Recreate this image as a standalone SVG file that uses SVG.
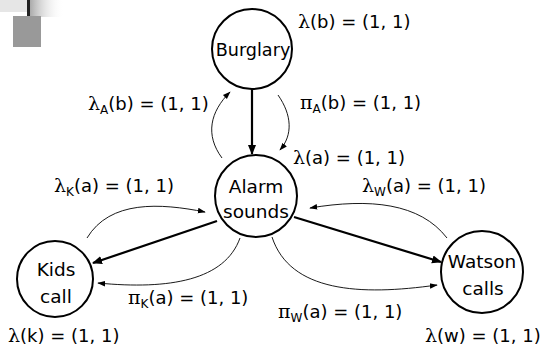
<svg xmlns="http://www.w3.org/2000/svg" width="545" height="352" viewBox="0 0 545 352">
<style>
.node{fill:#fff;stroke:#000;stroke-width:2}
.nt{font-family:"DejaVu Sans",Verdana,sans-serif;font-size:18.5px;fill:#000;text-anchor:middle}
.lb{font-family:"DejaVu Sans",Verdana,sans-serif;font-size:18px;fill:#000}
.g{font-family:"DejaVu Serif","Liberation Serif",serif;font-size:19px}
.sub{font-size:12px}
.thick{fill:none;stroke:#000;stroke-width:2.2}
.thin{fill:none;stroke:#000;stroke-width:0.9}
</style>
<defs>
<marker id="ah" viewBox="0 0 10 10" refX="9" refY="5" markerWidth="10" markerHeight="10" markerUnits="userSpaceOnUse" orient="auto">
<path d="M0,1 L10,5 L0,9 Z" fill="#000"/>
</marker>
<marker id="ahs" viewBox="0 0 10 10" refX="9" refY="5" markerWidth="8" markerHeight="8" markerUnits="userSpaceOnUse" orient="auto">
<path d="M0,1.5 L10,5 L0,8.5 Z" fill="#000"/>
</marker>
<linearGradient id="topline" x1="0" y1="0" x2="1" y2="0">
<stop offset="0" stop-color="#333"/>
<stop offset="0.4" stop-color="#444"/>
<stop offset="1" stop-color="#ddd"/>
</linearGradient>
<linearGradient id="shade" x1="0" y1="0" x2="1" y2="0">
<stop offset="0" stop-color="#aaa"/>
<stop offset="1" stop-color="#fff" stop-opacity="0"/>
</linearGradient>
</defs>
<rect width="545" height="352" fill="#fff"/>
<g id="decoration">
<rect x="0" y="0" width="28" height="12" fill="#e6e6e6"/>
<rect x="30" y="0" width="34" height="17" fill="url(#shade)"/>
<line x1="6" y1="4" x2="545" y2="4" stroke="url(#topline)" stroke-width="2"/>
<line x1="28.5" y1="0" x2="28.5" y2="20" stroke="#222" stroke-width="3"/>
<rect x="13" y="16" width="28" height="31" fill="#999"/>
</g>
<g id="connectors">
<line class="thick" x1="252" y1="89" x2="252" y2="154" marker-end="url(#ah)"/>
<line class="thick" x1="217" y1="221" x2="93" y2="263" marker-end="url(#ah)"/>
<line class="thick" x1="294" y1="217" x2="441" y2="262" marker-end="url(#ah)"/>
<path class="thin" d="M222,158 C205,135 210,112 230,92" marker-end="url(#ahs)"/>
<path class="thin" d="M278,95 C292,115 293,135 280,150" marker-end="url(#ahs)"/>
<path class="thin" d="M87,238 C110,200 160,203 205,212" marker-end="url(#ahs)"/>
<path class="thin" d="M240,238 C225,280 170,290 98,283" marker-end="url(#ahs)"/>
<path class="thin" d="M447,238 C420,203 370,198 310,208" marker-end="url(#ahs)"/>
<path class="thin" d="M272,237 C290,292 360,296 437,285" marker-end="url(#ahs)"/>
</g>
<g id="burglary">
<circle class="node" cx="252" cy="49" r="40"/>
<text class="nt" x="253" y="56" style="font-size:17.6px">Burglary</text>
</g>
<g id="alarm">
<circle class="node" cx="256" cy="196" r="41"/>
<text class="nt" x="256" y="193">Alarm</text>
<text class="nt" x="256" y="218">sounds</text>
</g>
<g id="kids">
<circle class="node" cx="55" cy="279" r="38"/>
<text class="nt" x="56" y="276">Kids</text>
<text class="nt" x="56" y="303">call</text>
</g>
<g id="watson">
<circle class="node" cx="482" cy="272" r="41"/>
<text class="nt" x="482" y="268">Watson</text>
<text class="nt" x="483" y="295">calls</text>
</g>
<g id="labels">
<text class="lb" x="298" y="28"><tspan class="g">λ</tspan>(b) = (1, 1)</text>
<text class="lb" x="88" y="110"><tspan class="g">λ</tspan><tspan class="sub" dy="4">A</tspan><tspan dy="-4">(b) = (1, 1)</tspan></text>
<text class="lb" x="300" y="109"><tspan class="g">π</tspan><tspan class="sub" dy="4">A</tspan><tspan dy="-4">(b) = (1, 1)</tspan></text>
<text class="lb" x="293" y="164"><tspan class="g">λ</tspan>(a) = (1, 1)</text>
<text class="lb" x="54" y="192"><tspan class="g">λ</tspan><tspan class="sub" dy="4">K</tspan><tspan dy="-4">(a) = (1, 1)</tspan></text>
<text class="lb" x="362" y="192"><tspan class="g">λ</tspan><tspan class="sub" dy="4">W</tspan><tspan dy="-4">(a) = (1, 1)</tspan></text>
<text class="lb" x="128" y="304"><tspan class="g">π</tspan><tspan class="sub" dy="4">K</tspan><tspan dy="-4">(a) = (1, 1)</tspan></text>
<text class="lb" x="278" y="318"><tspan class="g">π</tspan><tspan class="sub" dy="4">W</tspan><tspan dy="-4">(a) = (1, 1)</tspan></text>
<text class="lb" x="8" y="342"><tspan class="g">λ</tspan>(k) = (1, 1)</text>
<text class="lb" x="425" y="342"><tspan class="g">λ</tspan>(w) = (1, 1)</text>
</g>
</svg>
